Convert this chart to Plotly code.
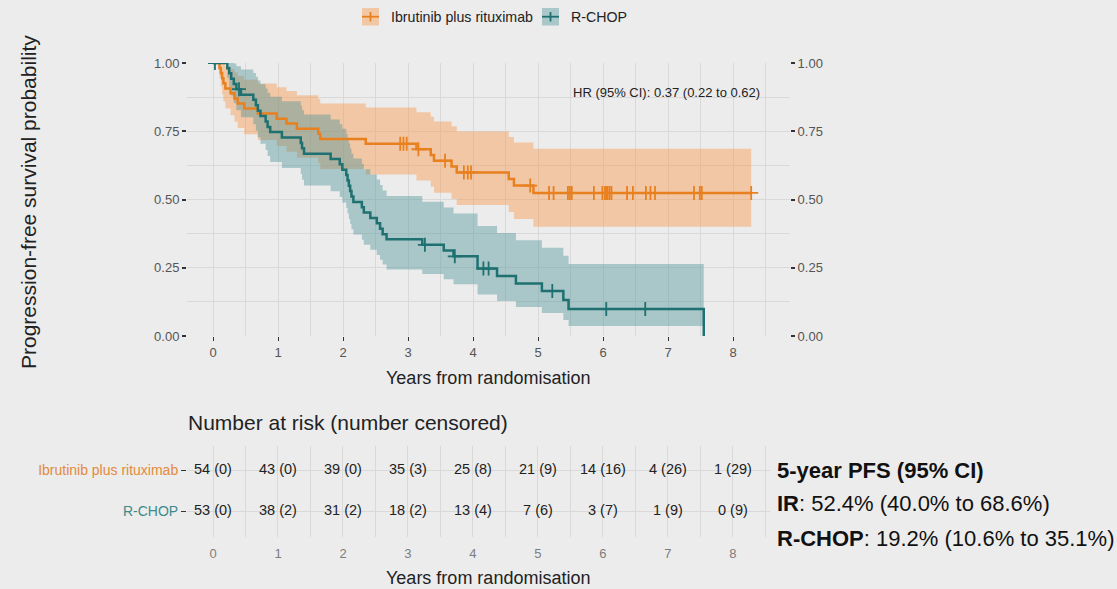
import numpy as np
import plotly.graph_objects as go

# ---------------- Kaplan-Meier estimates ----------------
# Ibrutinib plus rituximab (IR): step times, survival and 95% CI
ir_time = [0, 0.10, 0.12, 0.14, 0.16, 0.19, 0.27, 0.33, 0.38, 0.48, 0.69, 0.98, 1.13, 1.29,
           1.62, 1.65, 2.35, 3.13, 3.35, 3.40, 3.67, 3.75, 4.55, 4.63, 4.93, 8.28]
ir_surv = [1.0, 0.981, 0.963, 0.944, 0.926, 0.907, 0.889, 0.870, 0.852, 0.833, 0.815, 0.796, 0.778, 0.759,
           0.741, 0.722, 0.704, 0.684, 0.663, 0.642, 0.621, 0.599, 0.575, 0.551, 0.524, 0.524]
ir_upper = [1.0, 1.0, 1.0, 1.0, 0.999, 0.988, 0.977, 0.965, 0.952, 0.939, 0.925, 0.911, 0.897, 0.882,
            0.868, 0.852, 0.837, 0.820, 0.803, 0.786, 0.768, 0.749, 0.729, 0.709, 0.686, 0.686]
ir_lower = [1.0, 0.946, 0.914, 0.885, 0.859, 0.833, 0.809, 0.785, 0.762, 0.739, 0.718, 0.696, 0.675, 0.653,
            0.633, 0.612, 0.592, 0.570, 0.547, 0.525, 0.502, 0.480, 0.454, 0.429, 0.400, 0.400]
ir_censor = [2.88, 2.93, 2.98, 3.16, 3.57, 3.86, 3.92, 3.97, 4.88, 5.17, 5.24, 5.46, 5.49, 5.52,
             5.86, 5.99, 6.03, 6.05, 6.07, 6.10, 6.13, 6.37, 6.46, 6.66, 6.73, 6.80, 7.40, 7.49, 7.52, 8.28]

# R-CHOP
rc_time = [0, 0.22, 0.25, 0.28, 0.32, 0.36, 0.43, 0.62, 0.66, 0.69, 0.73, 0.81, 0.84, 0.88, 1.06,
           1.35, 1.37, 1.40, 1.81, 1.95, 1.99, 2.05, 2.07, 2.09, 2.11, 2.13, 2.16, 2.29, 2.32, 2.42,
           2.52, 2.57, 2.61, 2.67, 3.22, 3.55, 3.70, 4.07, 4.37, 4.66, 5.06, 5.39, 5.47, 7.55]
rc_surv = [1.0, 0.981, 0.962, 0.942, 0.923, 0.904, 0.884, 0.865, 0.845, 0.825, 0.806, 0.786, 0.766, 0.747, 0.727,
           0.707, 0.688, 0.668, 0.648, 0.629, 0.609, 0.590, 0.570, 0.550, 0.531, 0.511, 0.491, 0.472, 0.452, 0.432,
           0.413, 0.393, 0.373, 0.354, 0.334, 0.313, 0.292, 0.247, 0.220, 0.192, 0.165, 0.132, 0.099, 0.0]
rc_upper = [1.0, 1.0, 1.0, 1.0, 0.998, 0.988, 0.976, 0.963, 0.950, 0.936, 0.922, 0.907, 0.891, 0.876, 0.860,
            0.844, 0.827, 0.811, 0.793, 0.776, 0.759, 0.741, 0.723, 0.705, 0.687, 0.668, 0.650, 0.631, 0.611, 0.592,
            0.573, 0.553, 0.533, 0.513, 0.492, 0.471, 0.449, 0.403, 0.377, 0.351, 0.323, 0.294, 0.264, 0.264]
rc_lower = [1.0, 0.944, 0.911, 0.881, 0.853, 0.827, 0.801, 0.776, 0.752, 0.728, 0.704, 0.681, 0.659, 0.637, 0.615,
            0.593, 0.572, 0.551, 0.530, 0.509, 0.489, 0.469, 0.449, 0.429, 0.410, 0.391, 0.372, 0.353, 0.334, 0.316,
            0.297, 0.279, 0.262, 0.244, 0.227, 0.208, 0.190, 0.152, 0.128, 0.106, 0.084, 0.059, 0.037, 0.037]
rc_censor = [0.03, 0.40, 3.26, 3.72, 4.16, 4.24, 5.22, 6.05, 6.65]

# ---------------- Number at risk table ----------------
risk_years = [0, 1, 2, 3, 4, 5, 6, 7, 8]
ir_at_risk = [54, 43, 39, 35, 25, 21, 14, 4, 1]
ir_censored = [0, 0, 0, 3, 8, 9, 16, 26, 29]
rc_at_risk = [53, 38, 31, 18, 13, 7, 3, 1, 0]
rc_censored = [0, 2, 2, 2, 4, 6, 7, 9, 9]

arm_names = ["Ibrutinib plus rituximab", "R-CHOP"]
hr_text = "HR (95% CI): 0.37 (0.22 to 0.62)"
pfs_title = "5-year PFS (95% CI)"
pfs_ir = "52.4% (40.0% to 68.6%)"
pfs_rc = "19.2% (10.6% to 35.1%)"

# ---------------- styling ----------------
FONT = "Liberation Sans, Arial, sans-serif"
BG = "#ececec"
GRID = "#d9d9d9"
ORANGE = "#e8801f"
TEAL = "#1f7070"
ORANGE_FILL = "rgba(250,146,61,0.40)"
TEAL_FILL = "rgba(71,143,151,0.40)"
ORANGE_LABEL = "#e38a3c"
TEAL_LABEL = "#3c8a8b"

W, H = 1117, 589
ML, MR, MT, MB = 187, W - 790, 63, H - 537


def px(x):
    """pixel column -> paper x"""
    return (x - ML) / (W - ML - MR)


def py(y):
    """pixel row -> paper y"""
    return (H - MB - y) / (H - MT - MB)


def value_at(times, values, t):
    idx = np.searchsorted(np.asarray(times), np.asarray(t), side="right") - 1
    return list(np.asarray(values)[idx])


fig = go.Figure()

# confidence bands (orange first, teal drawn over it)
for t, lo, up, fill in [(ir_time, ir_lower, ir_upper, ORANGE_FILL),
                        (rc_time, rc_lower, rc_upper, TEAL_FILL)]:
    fig.add_trace(go.Scatter(x=t, y=up, mode="lines", line=dict(width=0, shape="hv"),
                             hoverinfo="skip", showlegend=False))
    fig.add_trace(go.Scatter(x=t, y=lo, mode="lines", line=dict(width=0, shape="hv"),
                             fill="tonexty", fillcolor=fill, hoverinfo="skip", showlegend=False))

# survival curves
for t, s, col in [(ir_time, ir_surv, ORANGE), (rc_time, rc_surv, TEAL)]:
    fig.add_trace(go.Scatter(x=t, y=s, mode="lines", line=dict(color=col, width=2.5, shape="hv"),
                             showlegend=False))

# censoring marks (on the mirrored right-hand axis, which shares the same scale)
for ct, t, s, col in [(ir_censor, ir_time, ir_surv, ORANGE), (rc_censor, rc_time, rc_surv, TEAL)]:
    fig.add_trace(go.Scatter(x=ct, y=value_at(t, s, ct), mode="markers", yaxis="y2",
                             marker=dict(symbol="cross-thin", size=10, line=dict(color=col, width=1.8)),
                             showlegend=False, cliponaxis=True))

# number-at-risk table text
fig.add_trace(go.Scatter(x=risk_years, y=[2] * len(risk_years),
                         text=[f"{n} ({c})" for n, c in zip(ir_at_risk, ir_censored)],
                         mode="text", textfont=dict(family=FONT, size=14.5, color="#222"),
                         xaxis="x3", yaxis="y3", showlegend=False))
fig.add_trace(go.Scatter(x=risk_years, y=[1] * len(risk_years),
                         text=[f"{n} ({c})" for n, c in zip(rc_at_risk, rc_censored)],
                         mode="text", textfont=dict(family=FONT, size=14.5, color="#222"),
                         xaxis="x3", yaxis="y3", showlegend=False))

grid_common = dict(showgrid=True, gridcolor=GRID, gridwidth=1, zeroline=False, showline=False,
                   automargin=False)

fig.update_layout(
    width=W, height=H, autosize=False,
    margin=dict(l=ML, r=MR, t=MT, b=MB, pad=0),
    paper_bgcolor=BG, plot_bgcolor=BG,
    font=dict(family=FONT, color="#333"),
    showlegend=False,
    xaxis=dict(domain=[0, 1], range=[-0.4, 8.877], anchor="y", tickmode="linear", tick0=0, dtick=1,
               ticks="outside", ticklen=4, tickwidth=1.2, tickcolor="#333",
               tickfont=dict(size=13, color="#555"),
               minor=dict(dtick=0.5, tick0=0, showgrid=True, gridcolor=GRID, gridwidth=1),
               **grid_common),
    yaxis=dict(domain=[py(336), 1], range=[0, 1], anchor="x", tickmode="linear", tick0=0, dtick=0.25,
               tickformat=".2f", ticks="outside", ticklen=4, tickwidth=1.5, tickcolor="#333",
               tickfont=dict(size=13, color="#555"),
               minor=dict(dtick=0.125, tick0=0, showgrid=True, gridcolor=GRID, gridwidth=1),
               **grid_common),
    yaxis2=dict(overlaying="y", side="right", anchor="x", range=[0, 1],
                tickmode="linear", tick0=0, dtick=0.25, tickformat=".2f",
                ticks="outside", ticklen=4, tickwidth=1.5, tickcolor="#333",
                tickfont=dict(size=13, color="#555"), showgrid=False, zeroline=False,
                showline=False, automargin=False),
    xaxis3=dict(domain=[0, px(770)], range=[-0.4, 8.57], anchor="y3", tickmode="linear", tick0=0, dtick=1,
                ticks="outside", ticklen=4, tickcolor="rgba(0,0,0,0)",
                tickfont=dict(size=13, color="#7d7d7d"),
                minor=dict(dtick=0.5, tick0=0, showgrid=True, gridcolor=GRID, gridwidth=1),
                **grid_common),
    yaxis3=dict(domain=[0, py(446)], range=[0.366, 2.586], anchor="x3",
                tickmode="array", tickvals=[2, 1],
                ticktext=[f'<span style="color:{ORANGE_LABEL}">{arm_names[0]}</span>',
                          f'<span style="color:{TEAL_LABEL}">{arm_names[1]}</span>'],
                ticks="outside", ticklen=5, tickwidth=1.2, tickcolor="#333",
                tickfont=dict(size=14, color="#555"),
                **grid_common),
)

ann = []


def text(x, y, s, size, color="#222", xanchor="center", yanchor="middle", angle=0):
    ann.append(dict(x=x, y=y, xref="paper", yref="paper", text=s, showarrow=False, xanchor=xanchor,
                    yanchor=yanchor, textangle=angle, font=dict(family=FONT, size=size, color=color)))


# axis titles
text(px(28), py(202), "Progression-free survival probability", 21, angle=-90)
text(px(488), py(378), "Years from randomisation", 18)
text(px(488), py(578), "Years from randomisation", 18)
text(px(186), py(422), "Number at risk (number censored)", 21, xanchor="left")
# hazard ratio
text(px(571), py(92), hr_text, 13, xanchor="left")
# 5-year PFS summary
text(px(775), py(470), f"<b>{pfs_title}</b>", 22, color="#111", xanchor="left")
text(px(775), py(503), f"<b>IR</b>: {pfs_ir}", 22, color="#111", xanchor="left")
text(px(775), py(538), f"<b>R-CHOP</b>: {pfs_rc}", 22, color="#111", xanchor="left")
# legend labels
text(px(389), py(17), arm_names[0], 14.2, xanchor="left")
text(px(569), py(17), arm_names[1], 14.2, xanchor="left")

shapes = []
for x0, fill, col in [(362, "#f2c8a4", ORANGE), (542, "#aac7ca", TEAL)]:
    shapes.append(dict(type="rect", xref="paper", yref="paper", x0=px(x0), x1=px(x0 + 17),
                       y0=py(25.5), y1=py(8), fillcolor=fill, line=dict(width=0)))
    shapes.append(dict(type="line", xref="paper", yref="paper", x0=px(x0), x1=px(x0 + 17),
                       y0=py(16.7), y1=py(16.7), line=dict(color=col, width=1.8)))
    shapes.append(dict(type="line", xref="paper", yref="paper", x0=px(x0 + 8.5), x1=px(x0 + 8.5),
                       y0=py(12), y1=py(21.5), line=dict(color=col, width=1.8)))

fig.update_layout(annotations=ann, shapes=shapes)

fig.write_html("out.html")
